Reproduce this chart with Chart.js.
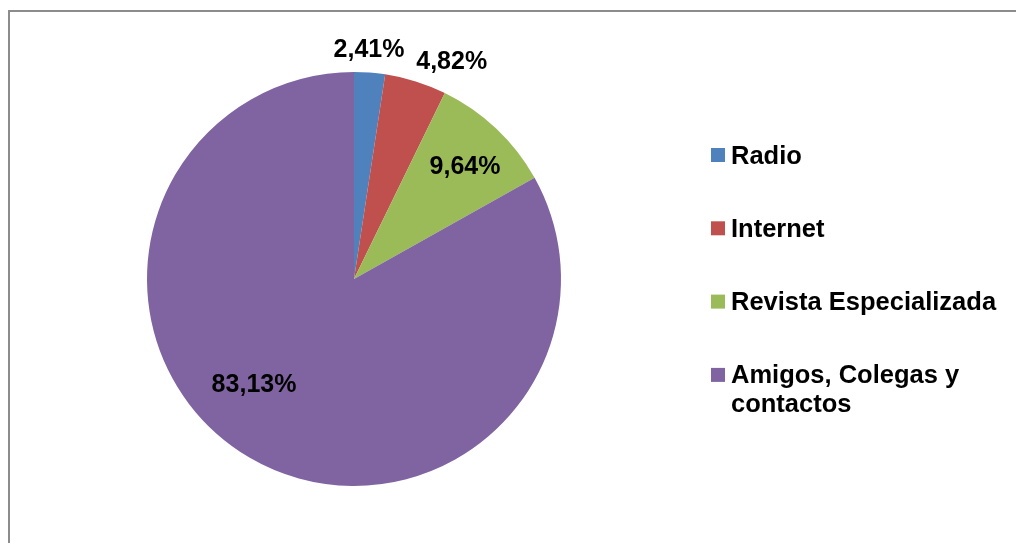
<!DOCTYPE html>
<html>
<head>
<meta charset="utf-8">
<script src="https://cdn.jsdelivr.net/npm/chart.js@4.4.1/dist/chart.umd.min.js"></script>
<style>
    html, body { margin: 0; padding: 0; background: #fff; overflow: hidden; }
    #frame {
        position: absolute; left: 8px; top: 10px; width: 1100px; height: 600px;
        border-left: 2px solid #8c8c8c; border-top: 2px solid #8c8c8c;
    }
    #wrap { position: absolute; left: 0; top: 0; width: 1016px; height: 543px; }
</style>
</head>
<body>
<div id="frame"></div>
<div id="wrap"><canvas id="pie-chart" width="1016" height="543"></canvas></div>
<script>
// datos del gráfico
const categories = ['Radio', 'Internet', 'Revista Especializada', 'Amigos, Colegas y contactos'];
const percentages = [2.41, 4.82, 9.64, 83.13];
const sliceColors = ['#4f81bd', '#c0504d', '#9bbb59', '#8064a2'];

// colocación de etiquetas (factor de radio y desplazamiento angular en grados)
const labelRadius = [1.116, 1.158, 0.767, 0.697];
const labelShift = [-0.6, 6.7, 1.0, 13.5];

const FONT = '"Liberation Sans", Arial, sans-serif';

function fmtPct(v) {
    return v.toFixed(2).replace('.', ',') + '%';
}

const pieLabels = {
    id: 'pieLabels',
    afterDatasetsDraw(chart) {
        const ctx = chart.ctx;
        const meta = chart.getDatasetMeta(0);
        ctx.save();
        ctx.font = 'bold 25px ' + FONT;
        ctx.fillStyle = '#000';
        ctx.textAlign = 'center';
        ctx.textBaseline = 'middle';
        meta.data.forEach((arc, i) => {
            const p = arc.getProps(['x', 'y', 'startAngle', 'endAngle', 'outerRadius'], true);
            const a = (p.startAngle + p.endAngle) / 2 + labelShift[i] * Math.PI / 180;
            const r = p.outerRadius * labelRadius[i];
            ctx.fillText(fmtPct(percentages[i]), p.x + Math.cos(a) * r, p.y + Math.sin(a) * r + 2);
        });
        ctx.restore();
    }
};

const sideLegend = {
    id: 'sideLegend',
    afterDraw(chart) {
        const ctx = chart.ctx;
        const left = 711, box = 14, textX = 731, firstY = 155, step = 73.3, lineH = 29, maxW = 275;
        ctx.save();
        ctx.font = 'bold 25.5px ' + FONT;
        ctx.textBaseline = 'middle';
        ctx.textAlign = 'left';
        categories.forEach((name, i) => {
            const y = firstY + step * i;
            ctx.fillStyle = sliceColors[i];
            ctx.fillRect(left, y - box / 2, box, box);
            // ajuste de línea simple
            const words = name.split(' ');
            const lines = [];
            let cur = '';
            words.forEach(w => {
                const test = cur ? cur + ' ' + w : w;
                if (cur && ctx.measureText(test).width > maxW) {
                    lines.push(cur);
                    cur = w;
                } else {
                    cur = test;
                }
            });
            lines.push(cur);
            ctx.fillStyle = '#000';
            lines.forEach((ln, j) => ctx.fillText(ln, textX, y + 1.5 + j * lineH));
        });
        ctx.restore();
    }
};

new Chart(document.getElementById('pie-chart').getContext('2d'), {
    type: 'pie',
    data: {
        labels: categories,
        datasets: [{
            data: percentages,
            backgroundColor: sliceColors,
            borderWidth: 0,
            hoverOffset: 0
        }]
    },
    options: {
        responsive: false,
        animation: false,
        layout: { padding: { left: 147, right: 455, top: 72, bottom: 57 } },
        plugins: {
            legend: { display: false },
            tooltip: { enabled: false }
        }
    },
    plugins: [pieLabels, sideLegend]
});
</script>
</body>
</html>
